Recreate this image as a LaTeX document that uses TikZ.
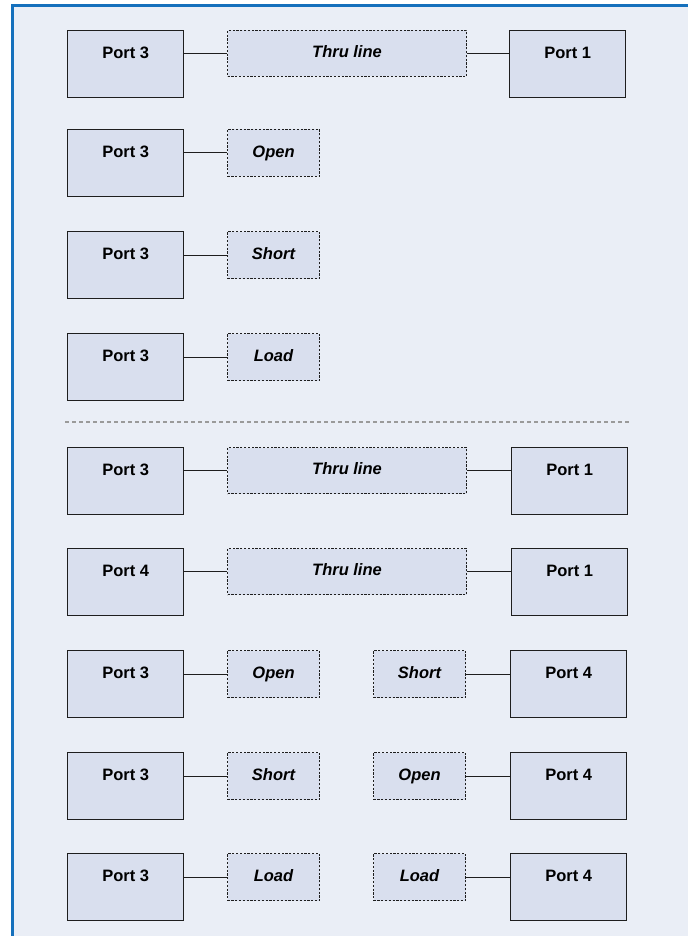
\documentclass[tikz,border=0pt]{standalone}
\usepackage{fontspec}
\setmainfont{Liberation Sans}
\definecolor{panelbg}{HTML}{EAEEF6}
\definecolor{boxfill}{HTML}{D9DFEE}
\definecolor{frameblue}{HTML}{1570BC}
\definecolor{boxline}{HTML}{1E1E1E}
\definecolor{sepgray}{HTML}{9A9A9A}
\tikzset{
  port/.style={draw=boxline, line width=1.3pt, fill=boxfill, anchor=north west,
    minimum width=116pt, minimum height=67pt, inner sep=0pt,
    text height=12pt, text depth=23.6pt,
    font=\fontsize{16.5}{18}\selectfont\bfseries},
  stub/.style={draw=boxline, line width=1pt, dash pattern=on 2.2pt off 1.6pt,
    fill=boxfill, anchor=north west, minimum height=46pt, inner sep=0pt,
    text height=12pt, text depth=3.5pt,
    font=\fontsize{16.5}{18}\selectfont\bfseries\itshape},
  thru/.style={stub, minimum width=239pt},
  short/.style={stub, minimum width=92pt},
  wire/.style={draw=boxline, line width=1pt},
}
\begin{document}
\begin{tikzpicture}[x=1pt, y=-1pt]
  % panel and its frame
  \fill[white] (0,0) rectangle (688,936);
  \useasboundingbox (0,0) rectangle (688,936);
  \fill[panelbg] (12,5) rectangle (688,936);
  \draw[frameblue, line width=2.6pt] (12.3,936) -- (12.3,5.3) -- (688,5.3);

  % top group: port 3 calibration
  \node[port] (a1) at (67,30) {Port 3};
  \node[thru] (t1) at (227,30) {Thru line};
  \node[port] (b1) at (509,30) {Port 1};
  \draw[wire] (t1.west) -- (a1.east |- t1.west);
  \draw[wire] (t1.east) -- (b1.west |- t1.east);

  \node[port] (a2) at (67,129) {Port 3};
  \node[short, minimum height=47pt] (s2) at (227,129) {Open};
  \draw[wire] (s2.west) -- (a2.east |- s2.west);

  \node[port] (a3) at (67,231) {Port 3};
  \node[short, minimum height=47pt] (s3) at (227,231) {Short};
  \draw[wire] (s3.west) -- (a3.east |- s3.west);

  \node[port] (a4) at (67,333) {Port 3};
  \node[short, minimum height=47pt] (s4) at (227,333) {Load};
  \draw[wire] (s4.west) -- (a4.east |- s4.west);

  % separator
  \coordinate (sepL) at (65,422);
  \coordinate (sepR) at (631,422);
  \draw[sepgray, line width=1.2pt, dash pattern=on 4pt off 3pt] (sepL) -- (sepR);

  % bottom group: ports 3 and 4
  \node[port] (a5) at (67,447) {Port 3};
  \node[thru] (t5) at (227,447) {Thru line};
  \node[port] (b5) at (511,447) {Port 1};
  \draw[wire] (t5.west) -- (a5.east |- t5.west);
  \draw[wire] (t5.east) -- (b5.west |- t5.east);

  \node[port] (a6) at (67,548) {Port 4};
  \node[thru] (t6) at (227,548) {Thru line};
  \node[port] (b6) at (511,548) {Port 1};
  \draw[wire] (t6.west) -- (a6.east |- t6.west);
  \draw[wire] (t6.east) -- (b6.west |- t6.east);

  \node[port] (a7) at (67,650) {Port 3};
  \node[short, minimum height=47pt] (s7) at (227,650) {Open};
  \node[short, minimum height=47pt] (r7) at (373,650) {Short};
  \node[port] (b7) at (510,650) {Port 4};
  \draw[wire] (s7.west) -- (a7.east |- s7.west);
  \draw[wire] (r7.east) -- (b7.west |- r7.east);

  \node[port] (a8) at (67,752) {Port 3};
  \node[short, minimum height=47pt] (s8) at (227,752) {Short};
  \node[short, minimum height=47pt] (r8) at (373,752) {Open};
  \node[port] (b8) at (510,752) {Port 4};
  \draw[wire] (s8.west) -- (a8.east |- s8.west);
  \draw[wire] (r8.east) -- (b8.west |- r8.east);

  \node[port] (a9) at (67,853) {Port 3};
  \node[short, minimum height=47pt] (s9) at (227,853) {Load};
  \node[short, minimum height=47pt] (r9) at (373,853) {Load};
  \node[port] (b9) at (510,853) {Port 4};
  \draw[wire] (s9.west) -- (a9.east |- s9.west);
  \draw[wire] (r9.east) -- (b9.west |- r9.east);
\end{tikzpicture}
\end{document}
